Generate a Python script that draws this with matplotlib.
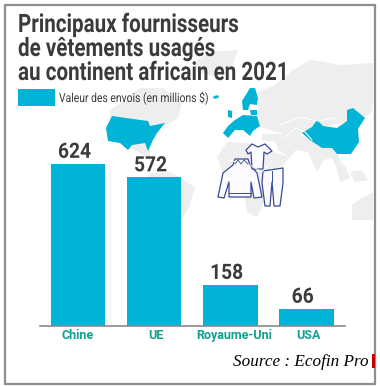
import matplotlib
matplotlib.use('Agg')
import matplotlib.pyplot as plt
from matplotlib.patches import Polygon, Rectangle, Ellipse
from matplotlib.patheffects import AbstractPathEffect
from matplotlib.transforms import Affine2D

# data
countries = ['Chine', 'UE', 'Royaume-Uni', 'USA']
values = [624, 572, 158, 66]
title_lines = ['Principaux fournisseurs', 'de vêtements usagés', 'au continent africain en 2021']
legend_label = 'Valeur des envois (en millions $)'
source_text = 'Source : Ecofin Pro'

BLUE = '#00b3d7'
GREY = '#eeeeee'
DARK = '#3b3b3b'
TEAL = '#12a18f'
NAVY = '#3a4a94'


# squeeze text horizontally (no condensed font installed)
class Condense(AbstractPathEffect):
    def __init__(self, sx, anchor=0.0):
        super().__init__()
        self.sx = sx
        self.anchor = anchor

    def draw_path(self, renderer, gc, tpath, affine, rgbFace=None):
        m = affine.get_matrix().copy()
        w = tpath.get_extents().x1 * m[0, 0]
        x0 = m[0, 2] + w * self.anchor
        m[0, 0] *= self.sx
        m[0, 2] = x0 - w * self.sx * self.anchor
        renderer.draw_path(gc, tpath, Affine2D(m), rgbFace)


# decoration shapes, in picture pixels
grey_map = [
    [(110,110),(125,100),(140,88),(163,88),(172,95),(182,103),(178,118),(168,124),(150,128),(150,160),(135,150),(112,135)],
    [(150,173),(170,172),(195,187),(190,205),(183,218),(170,220),(150,190)],
    [(193,62),(212,52),(238,50),(232,66),(212,76),(198,72)],
    [(258,92),(275,85),(293,70),(310,60),(325,62),(340,65),(373,63),(373,100),(372,112),(364,118),(353,108),(347,122),(323,127),(305,132),(296,138),(285,134),(270,130),(258,126),(258,110)],
    [(262,134),(285,134),(300,135),(312,140),(322,147),(332,147),(337,153),(347,177),(340,176),(332,158),(324,160),(317,172),(308,152),(296,150),(290,157),(278,150),(275,142),(262,140)],
    [(217,157),(227,142),(247,143),(273,152),(290,157),(277,173),(268,186),(263,205),(257,217),(247,212),(243,185),(225,180)],
    [(352,205),(362,198),(373,192),(373,220),(352,220)],
    [(335,162),(345,165),(350,178),(340,182)],
    [(350,172),(362,170),(368,180),(355,182)],
]
china = [(302,133),(312,127),(317,120),(323,126),(337,128),(347,121),(347,110),(353,108),(365,118),(358,129),(359,142),(351,154),(337,154),(332,148),(322,148),(310,140)]
usa = [(112,116),(133,119),(148,121),(150,126),(165,123),(157,133),(153,140),(148,151),(145,143),(132,145),(128,150),(120,143),(108,141),(106,128)]
eu = [
    [(250,88),(255,88),(258,98),(257,105),(250,104),(248,110),(243,110),(242,101),(247,93)],
    [(250,110),(257,110),(257,115),(251,115)],
    [(228,110),(232,111),(232,118),(228,117)],
    [(235,120),(243,115),(257,116),(260,126),(253,131),(250,136),(243,130),(235,130),(228,138),(223,133),(228,126)],
]
tshirt = [(246,150),(252,144),(258,147),(265,144),(272,151),(267,154),(264,152),(263,169),(252,169),(251,152),(248,154)]
sweater = [(235,159),(248,159),(250,165),(257,173),(262,197),(254,198),(251,182),(251,197),(229,197),(229,182),(224,198),(218,197),(223,173),(233,165)]
jeans = [(263,171),(283,168),(283,183),(280,206),(274,206),(272,182),(270,206),(265,206),(262,183)]

fig = plt.figure(figsize=(3.8, 3.86), dpi=100, facecolor='white')

# background layer
bg = fig.add_axes([0, 0, 1, 1])
bg.set_xlim(0, 380)
bg.set_ylim(386, 0)
bg.axis('off')
for shape in grey_map:
    bg.add_patch(Polygon(shape, closed=True, fc=GREY, ec='none'))
bg.plot([280,300,318,335], [125,117,121,118], color='white', lw=0.7)
bg.plot([285,296,305,312], [137,128,132,140], color='white', lw=0.7)
bg.plot([228,250,262,272], [160,165,172,160], color='white', lw=0.6)
for shape in [china, usa] + eu:
    bg.add_patch(Polygon(shape, closed=True, fc=BLUE, ec='none'))
bg.add_patch(Ellipse((216, 97), 6, 3, angle=-15, fc=BLUE, ec='none'))
for shape in [jeans, sweater, tshirt]:
    bg.add_patch(Polygon(shape, closed=True, fc='#fbfbfd', ec=NAVY, lw=0.9, joinstyle='round'))
bg.plot([235,238,241,244,248], [164,160,164,160,164], color=NAVY, lw=0.6)
bg.plot([229,251], [193,193], color=NAVY, lw=0.7)
bg.plot([272,272], [171,182], color=NAVY, lw=0.7)

# frame
bg.add_patch(Rectangle((4.5, 4.5), 370.5, 379, fc='none', ec='#8e8e8e', lw=1.6))
bg.add_patch(Rectangle((372, 354), 3, 14, fc='#c00000', ec='none', zorder=5))

# title and legend
for txt, y in zip(title_lines, [32, 56, 80]):
    bg.text(18, y, txt, family='Roboto', weight='bold', fontsize=18.3, color=DARK, va='baseline', ha='left',
            path_effects=[Condense(0.81)])
bg.add_patch(Rectangle((17.5, 89), 37, 17, fc=BLUE, ec='none'))
bg.text(59, 98, legend_label, family='Roboto', fontsize=9, color=DARK, va='center', ha='left',
        path_effects=[Condense(0.83)])
bg.text(233, 366.5, source_text, family='Liberation Serif', style='italic', fontsize=12.3, color='black',
        va='baseline', ha='left')

# bars
ax = fig.add_axes([40/380, (386-326)/386, 305/380, 226/386])
ax.patch.set_alpha(0)
x = range(len(values))
bars = ax.bar(x, values, width=0.72, color=BLUE)
ax.set_xlim(-0.5, 3.51)
ax.set_ylim(0, 870)
ax.set_yticks([])
for s in ['top', 'left', 'right']:
    ax.spines[s].set_visible(False)
ax.spines['bottom'].set_color('#8a8a8a')
ax.spines['bottom'].set_linewidth(1.2)
ax.set_xticks([0, 1.02, 2.05, 3.03])
ax.set_xticklabels(countries, family='Roboto', weight='bold', fontsize=9, color=TEAL)
ax.tick_params(axis='x', length=0, pad=2)
for b, v in zip(bars, values):
    ax.annotate(str(v), (b.get_x() + b.get_width()/2, v), xytext=(-2.5, 1.5), textcoords='offset points',
                ha='center', va='bottom', family='Roboto', weight='bold', fontsize=15.2, color=DARK,
                path_effects=[Condense(0.91, 0.5)])

fig.savefig('out.png', dpi=100)
